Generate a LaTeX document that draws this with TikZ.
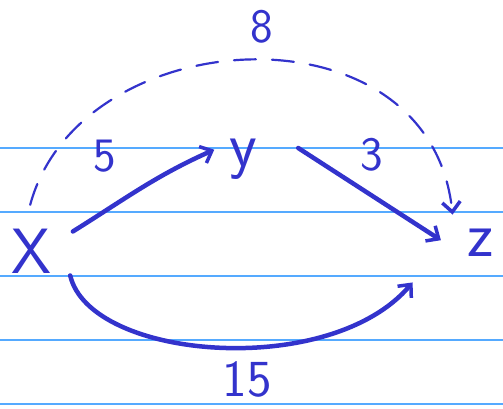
\documentclass[tikz,border=0pt]{standalone}
\usepackage{tikz}
\usepackage{xcolor}
\usetikzlibrary{arrows.meta, positioning}
\definecolor{ink}{HTML}{3333CC}
\definecolor{ruled}{HTML}{55AAFF}

\begin{document}
\begin{tikzpicture}[x=1pt, y=-1pt,
		vertex/.style={ink, circle, inner sep=0pt, font=\sffamily\fontsize{64}{64}\selectfont},
		weight/.style={ink, inner sep=1pt, font=\sffamily\fontsize{48}{48}\selectfont},
		edge/.style={ink, line width=4.5pt, line cap=round, -{Straight Barb[length=10pt, width=18pt, line width=3.5pt]}}]
			\useasboundingbox (0,0) rectangle (503,408);
			% Ruled paper
			\foreach \y in {148, 212, 276, 340, 404} {
				\draw[ruled, line width=1.2pt] (0,\y) -- (503,\y);
			}
			
			% Vertices
			\node[vertex, minimum size=92pt] (x) at (31,251) {X};
			\node[vertex, minimum size=60pt] (y) at (243,159) {y};
			\node[vertex, minimum size=80pt] (z) at (481,243) {z};
			
			% Edges
			\draw[edge] (x.25) to[out=32, in=204] (y.162);
			\draw[edge] ([shift={(25,-11)}]y.east) -- (z.176);
			\draw[edge, line width=2.2pt, dash pattern=on 22pt off 16pt] (x.91) .. controls (80,20) and (430,0) .. (z.135);
			\draw[edge] (x.-32) .. controls (90,360) and (330,380) .. ([shift={(-40,11)}]z.south west);
			
			% Weights
			\node[weight] (w5) at (105,156) {5};
			\node[weight] (w3) at (372,155) {3};
			\node[weight] (w8) at (262,27) {8};
			\node[weight, font=\sffamily\fontsize{52}{52}\selectfont] (w15) at (247,379) {15};
		\end{tikzpicture}
\end{document}
